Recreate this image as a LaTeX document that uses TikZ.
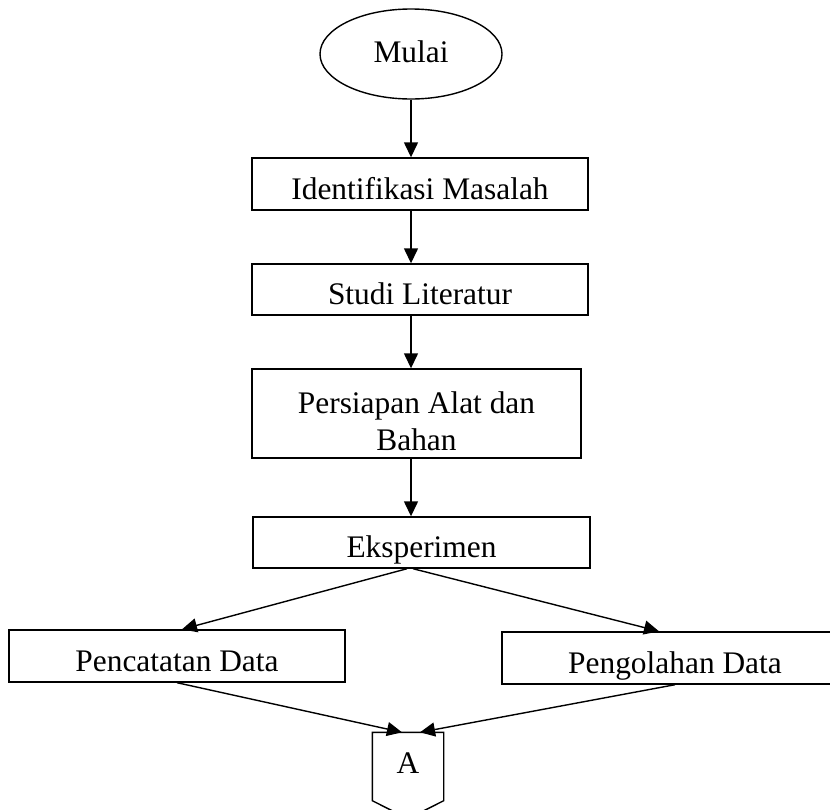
\documentclass[tikz,border=0pt]{standalone}
\usepackage{fontspec}
\setmainfont{Liberation Serif}
\usetikzlibrary{arrows.meta,shapes.geometric}
\tikzset{proc/.style={draw, rectangle, inner sep=0pt, text height=15pt,
  text depth=0pt}}

\begin{document}
\begin{tikzpicture}[x=0.5pt, y=-0.5pt, line width=0.7pt,
  >={Triangle[length=7.5pt, width=7pt]},
  font=\fontsize{15.7pt}{18.5pt}\selectfont]
  \useasboundingbox (0, 0) rectangle (830, 809);
  \node[draw, ellipse, inner sep=0pt, minimum width=91pt, minimum height=45pt,
    text height=8pt, text depth=0pt] (mulai) at (411, 54) {Mulai};
  \node[proc, minimum width=168pt, minimum height=26pt] (idm) at (420, 184) {Identifikasi Masalah};
  \node[proc, minimum width=168pt, minimum height=25.5pt] (stl) at (420, 289.5) {Studi Literatur};
  \node[proc, minimum width=164.5pt, minimum height=44.5pt, text height=0pt]
    (pab) at (416.5, 413.5) {\begin{tabular}[t]{@{}c@{}}Persiapan Alat dan\\Bahan\end{tabular}};
  \node[proc, minimum width=168.5pt, minimum height=25.5pt] (eks) at (421.5, 542.5) {Eksperimen};
  \node[proc, minimum width=168pt, minimum height=26pt] (pcd) at (177, 656) {Pencatatan Data};
  \node[proc, minimum width=173pt, minimum height=26pt] (pgd) at (675, 658) {Pengolahan Data};
  \node[rectangle, inner sep=0pt, minimum width=35pt, minimum height=33.5pt,
    text height=6.5pt, text depth=0pt] (a) at (408, 766.5) {A};
  % off-page connector
  \draw (a.south west) -- (a.north west) -- (a.north east) -- (a.south east)
    -- ([yshift=-9pt]a.south) -- cycle;
  % flow
  \draw[->] (mulai) -- (idm.north -| mulai);
  \draw[->] (idm.south -| mulai) -- (stl.north -| mulai);
  \draw[->] (stl.south -| mulai) -- (pab.north -| mulai);
  \draw[->] (pab.south -| mulai) -- (eks.north -| mulai);
  \draw[->] ([xshift=-7.25pt]eks.south) -- ([xshift=2.5pt]pcd.north);
  \draw[->] ([xshift=-4.25pt]eks.south) -- ([xshift=-8pt]pgd.north);
  \draw[->] (pcd.south) -- ([xshift=-3pt]a.north);
  \draw[->] (pgd.south) -- ([xshift=6pt]a.north);
\end{tikzpicture}
\end{document}
